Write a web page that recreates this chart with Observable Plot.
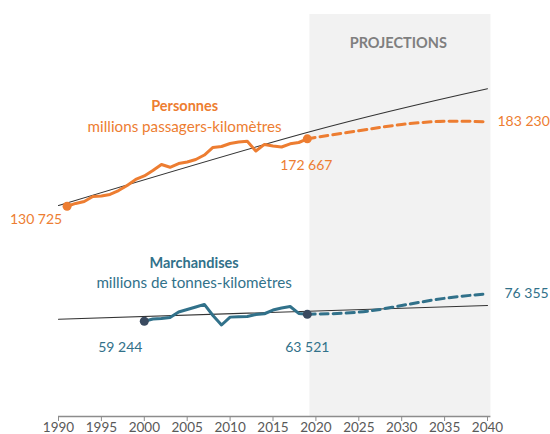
<!DOCTYPE html>
<html><head><meta charset="utf-8">
<script src="https://cdn.jsdelivr.net/npm/d3@7"></script>
<script src="https://cdn.jsdelivr.net/npm/@observablehq/plot@0.6"></script>
<style>
body{margin:0;background:#fff;}
#chart{width:550px;height:434px;}
</style></head><body><div id="chart"></div>
<script>
// ---- data ----
const personnesYears = [1991,1992,1993,1994,1995,1996,1997,1998,1999,2000,2001,2002,2003,2004,2005,2006,2007,2008,2009,2010,2011,2012,2013,2014,2015,2016,2017,2018,2019];
const personnes = [130725,132500,133700,136800,137100,138100,140500,143700,147400,149600,153000,156700,155000,157300,158300,159800,162600,167300,167900,169800,170700,171200,165100,169200,168200,167600,169600,170400,172667];
const marchandisesYears = [2000,2001,2002,2003,2004,2005,2006,2007,2008,2009,2010,2011,2012,2013,2014,2015,2016,2017,2018,2019];
const marchandises = [59244,60600,60900,61600,65000,66500,68100,69700,62800,56900,61800,62000,62200,63400,63900,66200,67500,68400,64100,63521];
const projectionYears = [2019,2020,2025,2030,2035,2040];
const personnesProjection = [172667,173600,177700,181600,183600,183230];
const marchandisesProjection = [63521,63700,64900,69000,73500,76355];
const trendYears = [1990,2019.4,2040];
const personnesTrend = [131200,177200,203800];
const marchandisesTrendYears = [1990,2040];
const marchandisesTrend = [60500,69000];
const projectionSpan = [2019.3,2040.4];
const tickYears = [1990,1995,2000,2005,2010,2015,2020,2025,2030,2035,2040];

// ---- helpers ----
const fmt = d3.formatLocale({decimal:",", thousands:" ", grouping:[3], currency:["","€"]}).format(",d");
const zip = (xs, ys) => xs.map((x,i)=>({year:x, value:ys[i]}));
const orange = "#ED7D31", teal = "#31718A", slate = "#3A4A60", grey = "#595959";

const pData = zip(personnesYears, personnes);
const mData = zip(marchandisesYears, marchandises);
const pProj = zip(projectionYears, personnesProjection);
const mProj = zip(projectionYears, marchandisesProjection);
const pTrend = zip(trendYears, personnesTrend);
const mTrend = zip(marchandisesTrendYears, marchandisesTrend);

const pFirst = pData[0], pLast = pData[pData.length-1], pEnd = pProj[pProj.length-1];
const mFirst = mData[0], mLast = mData[mData.length-1], mEnd = mProj[mProj.length-1];

const boldTitles = [
  {year:2004.7, value:192800, text:"Personnes", color:orange},
  {year:2005.8, value:95200, text:"Marchandises", color:teal},
  {year:2029.6, value:232000, text:"PROJECTIONS", color:"#7F7F7F"}
];
const subTitles = [
  {year:2004.7, value:179700, text:"millions passagers-kilomètres", color:orange},
  {year:2005.8, value:82700, text:"millions de tonnes-kilomètres", color:teal}
];

const chart = Plot.plot({
  width:550, height:434,
  marginLeft:58, marginRight:63, marginTop:14, marginBottom:18,
  style:{fontFamily:"Lato, 'Open Sans', sans-serif", fontSize:"14px", background:"#fff"},
  x:{domain:[1990,2040]},
  y:{domain:[0,250000], axis:null},
  marks:[
    Plot.rect([projectionSpan], {x1:d=>d[0], x2:d=>d[1], fill:"#F2F2F2"}),
    Plot.ruleY([0], {x1:1990, x2:projectionSpan[1], stroke:"#8C8C8C", strokeWidth:1.5}),
    Plot.axisX({ticks:tickYears, tickFormat:d=>String(d), tickSize:5, tickPadding:1, stroke:"#8C8C8C", fill:grey, label:null, fontSize:13.5}),
    // trend lines
    Plot.line(pTrend, {x:"year", y:"value", stroke:"#333", strokeWidth:1.1, curve:"natural"}),
    Plot.line(mTrend, {x:"year", y:"value", stroke:"#333", strokeWidth:1.1}),
    // projections
    Plot.line(pProj, {x:"year", y:"value", stroke:orange, strokeWidth:3, strokeDasharray:"8,5", curve:"natural"}),
    Plot.line(mProj, {x:"year", y:"value", stroke:teal, strokeWidth:3, strokeDasharray:"8,5", curve:"natural"}),
    // history
    Plot.line(pData, {x:"year", y:"value", stroke:orange, strokeWidth:3}),
    Plot.line(mData, {x:"year", y:"value", stroke:teal, strokeWidth:3}),
    Plot.dot([pFirst, pLast], {x:"year", y:"value", r:4.5, fill:orange}),
    Plot.dot([mFirst, mLast], {x:"year", y:"value", r:4.5, fill:slate}),
    // value labels
    Plot.text([pFirst], {x:"year", y:"value", text:d=>fmt(d.value), dx:-31, dy:13, fill:orange, fontSize:14}),
    Plot.text([pLast], {x:"year", y:"value", text:d=>fmt(d.value), dx:-1, dy:27, fill:orange, fontSize:14}),
    Plot.text([pEnd], {x:"year", y:"value", text:d=>fmt(d.value), dx:10, dy:0, textAnchor:"start", fill:orange, fontSize:14}),
    Plot.text([mFirst], {x:"year", y:"value", text:d=>fmt(d.value), dx:-24, dy:26, fill:teal, fontSize:14}),
    Plot.text([mLast], {x:"year", y:"value", text:d=>fmt(d.value), dx:0, dy:33, fill:teal, fontSize:14}),
    Plot.text([mEnd], {x:"year", y:"value", text:d=>fmt(d.value), dx:17, dy:0, textAnchor:"start", fill:teal, fontSize:14}),
    // titles
    Plot.text(boldTitles, {x:"year", y:"value", text:"text", fill:"color", fontWeight:"bold", fontSize:14.5}),
    Plot.text(subTitles, {x:"year", y:"value", text:"text", fill:"color", fontSize:15.2})
  ]
});
document.getElementById("chart").appendChild(chart);
</script></body></html>
